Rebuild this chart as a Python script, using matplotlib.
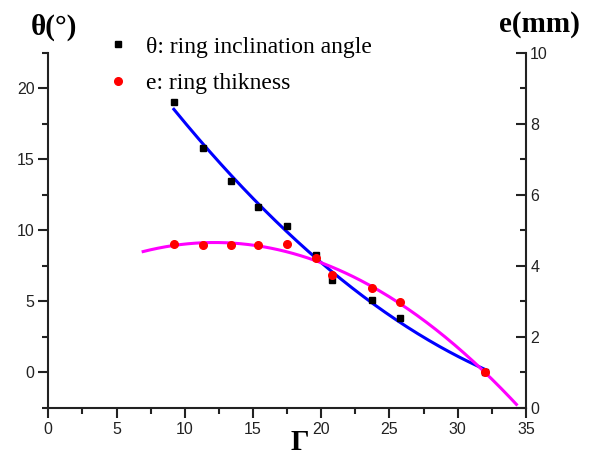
import numpy as np
import matplotlib.pyplot as plt
from matplotlib.ticker import MultipleLocator

# data
gamma = [9.2, 11.3, 13.4, 15.4, 17.5, 19.6, 20.8, 23.7, 25.8, 32.0]
theta = [19.0, 15.8, 13.45, 11.65, 10.3, 8.25, 6.5, 5.1, 3.85, 0.0]
thick = [4.6, 4.58, 4.58, 4.58, 4.6, 4.22, 3.73, 3.36, 2.98, 1.0]

# x span of the two fitted curves
theta_fit_span = [9.2, 32.0]
thick_fit_span = [6.95, 34.3]


def main():
    fig = plt.figure(figsize=(5.89, 4.69), dpi=100)
    ax1 = fig.add_axes([0.082, 0.1307, 0.811, 0.757])
    ax2 = ax1.twinx()

    # quadratic fits, like the ones in the original
    p1 = np.poly1d(np.polyfit(gamma, theta, 2))
    p2 = np.poly1d(np.polyfit(gamma, thick, 2))
    xf1 = np.linspace(theta_fit_span[0], theta_fit_span[1], 200)
    xf2 = np.linspace(thick_fit_span[0], thick_fit_span[1], 200)

    ax1.plot(xf1, p1(xf1), color='#0000FF', lw=2.2, zorder=3)
    ax2.plot(xf2, p2(xf2), color='#FF00FF', lw=2.2, zorder=3)
    h1, = ax1.plot(gamma, theta, 's', color='black', ms=5, ls='none', zorder=4)
    h2, = ax2.plot(gamma, thick, 'o', color='red', ms=5.5, ls='none', zorder=4)

    ax1.set_xlim(0, 35)
    ax1.set_ylim(-2.5, 22.5)
    ax2.set_ylim(0, 10)

    ax1.xaxis.set_major_locator(MultipleLocator(5))
    ax1.xaxis.set_minor_locator(MultipleLocator(2.5))
    ax1.yaxis.set_major_locator(MultipleLocator(5))
    ax1.yaxis.set_minor_locator(MultipleLocator(2.5))
    ax2.yaxis.set_major_locator(MultipleLocator(2))
    ax2.yaxis.set_minor_locator(MultipleLocator(1))

    for a in (ax1, ax2):
        a.spines['top'].set_visible(False)
        for s in a.spines.values():
            s.set_linewidth(1.5)
            s.set_color('#222222')
    ax1.spines['right'].set_visible(False)
    ax2.spines['left'].set_visible(False)
    ax2.spines['bottom'].set_visible(False)

    ax1.tick_params(which='major', direction='out', length=7, width=1.5,
                    labelsize=11.5, colors='#222222', pad=3)
    ax1.tick_params(which='minor', direction='out', length=4, width=1.5, colors='#222222')
    ax2.tick_params(which='major', direction='in', length=7, width=1.5,
                    labelsize=11.5, colors='#222222', pad=3)
    ax2.tick_params(which='minor', direction='in', length=4, width=1.5, colors='#222222')
    for lab in ax1.get_xticklabels() + ax1.get_yticklabels() + ax2.get_yticklabels():
        lab.set_fontfamily('Liberation Sans')

    ax1.text(0.012, 1.07, 'θ(°)', transform=ax1.transAxes, ha='center', va='center',
             fontsize=21, fontweight='bold', family='Liberation Serif')
    ax1.text(1.029, 1.078, 'e(mm)', transform=ax1.transAxes, ha='center', va='center',
             fontsize=21, fontweight='bold', family='Liberation Serif')
    ax1.text(0.527, -0.097, 'Γ', transform=ax1.transAxes, ha='center', va='center',
             fontsize=21, fontweight='bold', family='Liberation Serif')

    fig.legend([h1, h2], ['θ: ring inclination angle', 'e: ring thikness'],
               loc='upper left', bbox_to_anchor=(0.162, 0.958), frameon=False,
               prop={'family': 'Liberation Serif', 'size': 17},
               handlelength=0.5, handletextpad=0.95, labelspacing=0.62,
               borderpad=0.2)

    fig.savefig('out.png', dpi=100)


if __name__ == '__main__':
    main()
